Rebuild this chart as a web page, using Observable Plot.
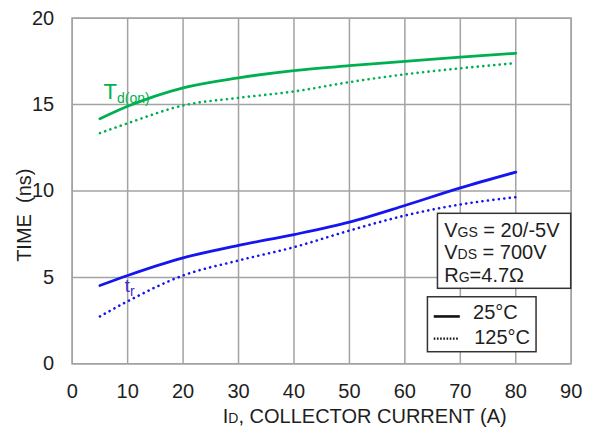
<!DOCTYPE html>
<html>
<head>
<meta charset="utf-8">
<script src="https://cdn.jsdelivr.net/npm/d3@7"></script>
<script src="https://cdn.jsdelivr.net/npm/@observablehq/plot@0.6"></script>
<style>
  html, body { margin: 0; padding: 0; background: #fff; }
  svg text, svg tspan { white-space: pre; }
</style>
</head>
<body>
<div id="chart"></div>
<script>
// ---- data ----
const current = [5, 10, 20, 30, 40, 50, 60, 70, 80];
const tdon25  = [14.18, 14.9, 15.97, 16.55, 16.97, 17.25, 17.5, 17.75, 17.97];
const tdon125 = [13.35, 13.92, 14.95, 15.39, 15.76, 16.3, 16.75, 17.1, 17.4];
const tr25    = [4.53, 5.11, 6.13, 6.85, 7.48, 8.2, 9.16, 10.18, 11.09];
const tr125   = [2.74, 3.62, 5.11, 5.98, 6.75, 7.71, 8.58, 9.22, 9.64];

const xTicks = [0, 10, 20, 30, 40, 50, 60, 70, 80, 90];
const yTicks = [0, 5, 10, 15, 20];

const xTitle = "I{D}, COLLECTOR CURRENT (A)";
const yTitle = "TIME  (ns)";
const condLines = ["V{GS} = 20/-5V", "V{DS} = 700V", "R{G}=4.7Ω"];
const legendLabels = ["25°C", "125°C"];

const green = "#00b050";
const blue = "#1515ef";

const rows = (ys, series, temp) => current.map((x, i) => ({x, y: ys[i], series, temp}));
const data = [
  ...rows(tdon25, "td", "25"), ...rows(tdon125, "td", "125"),
  ...rows(tr25, "tr", "25"), ...rows(tr125, "tr", "125")
];

const font = "'Liberation Sans', Arial, sans-serif";
const fs = 20;

const chart = Plot.plot({
  width: 594,
  height: 430,
  marginTop: 17.7,
  marginLeft: 71.7,
  marginRight: 23.3,
  marginBottom: 66.7,
  style: {fontFamily: font, fontSize: fs + "px", color: "#1e1e1e", background: "#fff", overflow: "visible"},
  x: {domain: [0, 90], ticks: xTicks, tickSize: 0, tickPadding: 20, label: null},
  y: {domain: [0, 20], ticks: yTicks, tickSize: 0, tickPadding: 18, label: null},
  marks: [
    Plot.ruleX(xTicks, {stroke: "#a3a3a3", strokeWidth: 1.5}),
    Plot.ruleY(yTicks, {stroke: "#a3a3a3", strokeWidth: 1.5}),
    Plot.frame({stroke: "#a3a3a3", strokeWidth: 1.5}),
    Plot.line(data.filter(d => d.temp === "125"), {x: "x", y: "y", z: "series",
      stroke: d => d.series === "td" ? green : blue, curve: "monotone-x",
      strokeWidth: 2.6, strokeDasharray: "0.1,5.4", strokeLinecap: "round"}),
    Plot.line(data.filter(d => d.temp === "25"), {x: "x", y: "y", z: "series",
      stroke: d => d.series === "td" ? green : blue, curve: "monotone-x",
      strokeWidth: 2.8}),
    // series labels
    Plot.text(["T[d(on)]"], {x: [5.66], y: [15.35], text: d => d, textAnchor: "start", lineAnchor: "bottom", fill: green, fontSize: 22}),
    Plot.text(["t[r]"], {x: [9.5], y: [4.13], text: d => d, textAnchor: "start", lineAnchor: "bottom", fill: "#3a2ad0", fontSize: 18}),
    // conditions box
    Plot.rect([0], {x1: [65.97], x2: [90], y1: [4.34], y2: [8.68], fill: "#fff", stroke: "#333", strokeWidth: 1.5}),
    Plot.text(condLines, {x: [67.1, 67.1, 67.1], y: [7.31, 6.08, 4.72], text: d => d, textAnchor: "start", lineAnchor: "bottom", fill: "#1e1e1e", fontSize: fs}),
    // legend box
    Plot.rect([0], {x1: [64.16], x2: [83.75], y1: [0.67], y2: [3.85], fill: "#fff", stroke: "#333", strokeWidth: 1.5}),
    Plot.ruleY([2.74], {x1: 65.3, x2: 70.0, stroke: "#111", strokeWidth: 2.6}),
    Plot.ruleY([1.46], {x1: 65.3, x2: 69.8, stroke: "#111", strokeWidth: 2.2, strokeDasharray: "1.6,1.6"}),
    Plot.text(legendLabels, {x: [72.3, 72.5], y: [2.62, 1.17], text: d => d, textAnchor: "start", lineAnchor: "bottom", fill: "#1e1e1e", fontSize: fs}),
    // axis titles
    Plot.text([xTitle], {x: [27.16], y: [-3.45], text: d => d, textAnchor: "start", lineAnchor: "bottom", fill: "#1e1e1e", fontSize: fs}),
    Plot.text([yTitle], {x: [-8.62], y: [8.6], text: d => d, rotate: -90, textAnchor: "middle", lineAnchor: "middle", fill: "#1e1e1e", fontSize: fs})
  ]
});

// convert {small same baseline} and [small lowered] markup to tspans
d3.select(chart).selectAll("text").each(function () {
  const t = this.textContent;
  if (!/[\{\[]/.test(t)) return;
  const base = parseFloat(this.getAttribute("font-size")) || fs;
  const sel = d3.select(this);
  sel.text(null);
  const re = /(\{[^}]*\}|\[[^\]]*\])/g;
  const parts = t.split(re).filter(p => p.length);
  parts.forEach(p => {
    const ts = sel.append("tspan");
    if (p[0] === "{") {
      ts.attr("font-size", Math.round(base * 0.72)).text(p.slice(1, -1));
    } else if (p[0] === "[") {
      ts.attr("font-size", Math.round(base * 0.72)).attr("dy", base * 0.2).text(p.slice(1, -1));
    } else {
      ts.text(p);
    }
  });
});

document.getElementById("chart").appendChild(chart);
</script>
</body>
</html>
